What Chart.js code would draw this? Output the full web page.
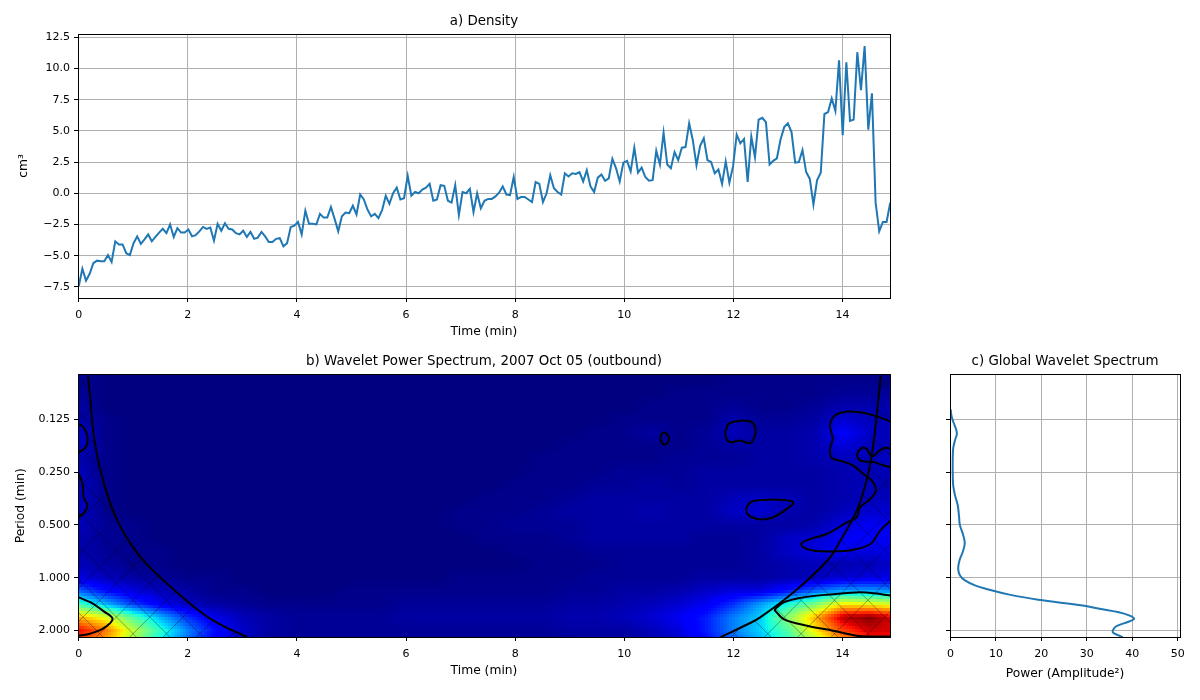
<!DOCTYPE html>
<html>
<head>
<meta charset="utf-8">
<title>Wavelet Power Spectrum</title>
<script src="https://cdn.jsdelivr.net/npm/chart.js@4/dist/chart.umd.min.js"></script>
<style>
    html, body { margin:0; padding:0; background:#fff; }
    body { width:1200px; height:700px; position:relative; overflow:hidden; }
    canvas { position:absolute; }
    #chart-density { left:0; top:0; }
    #chart-wavelet { left:0; top:345px; }
    #chart-global { left:900px; top:345px; }
</style>
</head>
<body>
<canvas id="chart-density" width="900" height="345"></canvas>
<canvas id="chart-wavelet" width="900" height="355"></canvas>
<canvas id="chart-global" width="300" height="355"></canvas>
<script>
// ── DATA ──

// a) density, one sample every dtMin minutes
const dtMin = 0.067;
const densityValues = [
    -7.45,-6.05,-7.0,-6.45,-5.6,-5.4,-5.45,-5.45,-4.95,-5.5,-3.85,-4.1,-4.1,-4.8,-4.95,-4.0,-3.45,-4.05,-3.7,-3.3,
    -3.85,-3.5,-3.15,-2.85,-3.2,-2.5,-3.5,-2.8,-3.15,-3.15,-2.9,-3.45,-3.35,-3.05,-2.7,-2.85,-2.75,-3.8,-2.45,-3.0,
    -2.4,-2.85,-2.9,-3.2,-3.3,-3.0,-3.5,-3.1,-3.65,-3.55,-3.1,-3.45,-3.9,-3.9,-3.65,-3.6,-4.25,-4.0,-2.7,-2.6,
    -2.3,-3.3,-1.4,-2.45,-2.45,-2.5,-1.65,-1.95,-1.95,-1.1,-2.05,-3.05,-1.85,-1.55,-1.6,-1.0,-1.7,-0.1,-0.5,-1.3,
    -1.85,-1.65,-2.0,-1.35,-0.2,-0.85,0,0.45,-0.5,-0.4,1.4,-0.2,0.1,0,0.3,0.45,0.75,-0.6,-0.5,0.65,
    0.6,-0.6,-0.75,0.65,-1.75,0.1,0,0.35,-1.5,0,-1.2,-0.6,-0.45,
    -0.45,-0.25,0.05,0.55,-0.1,-0.15,1.3,-0.45,-0.3,-0.3,-0.5,-0.7,0.9,0.75,-0.7,0,1.45,0.4,0.1,-0.1,
    1.6,1.35,1.6,1.55,1.7,0.95,1.85,0.55,0.1,1.25,1.5,1.0,1.2,2.75,2.0,0.95,2.45,2.6,1.75,3.65,
    1.65,2.05,1.3,1.0,1.05,3.4,2.3,4.85,2.3,2.0,3.3,2.65,3.65,3.7,5.6,4.25,2.25,3.8,4.4,2.65,
    2.5,1.6,1.9,0.75,2.55,0.85,2.15,4.7,4.0,4.35,0.9,4.55,2.9,5.9,6.05,5.7,2.3,2.6,2.8,4.3,
    5.3,5.6,4.9,2.45,2.5,3.45,1.7,1.15,-0.9,1.05,1.65,6.35,6.5,7.6,6.6,10.65,4.65,10.5,5.8,5.9,
    11.3,8.25,11.8,5.1,8.0,-0.75,-3.05,-2.3,-2.3,-0.75
];

// b) wavelet power, rows are periods (min), columns are times (min), 0-100 of the colour range
const gridTimes = [0,0.5,1,1.5,2,2.5,3,3.5,4,4.5,5,5.5,6,6.5,7,7.5,8,8.5,9,9.5,10,10.5,11,11.5,12,12.5,13,13.5,14,14.5,15];
const gridPeriods = [0.0625,0.0743,0.0884,0.1051,0.125,0.1487,0.1768,0.2102,0.25,0.2973,0.3536,0.4204,0.5,0.5946,0.7071,0.8409,1,1.1892,1.4142,1.6818,2,2.3784];
const powerGrid = [
    [2,0,0,0,0,0,0,0,0,0,0,0,0,0,0,0,0,0,0,0,0,0,0,0,0,0,1,1,1,1,1],
    [2,0,0,0,0,0,0,0,0,0,0,0,0,0,0,0,0,0,0,0,0,0,0,0,1,1,1,1,1,1,1],
    [2,0,0,0,0,0,0,0,0,0,0,0,0,0,0,0,0,0,0,0,0,0,1,1,1,1,1,1,2,2,2],
    [3,0,0,0,0,0,0,0,0,0,0,0,0,0,0,0,0,0,0,0,0,1,1,1,2,1,1,2,4,4,3],
    [4,1,0,0,0,0,0,0,0,0,0,0,0,0,0,0,0,0,0,0,1,1,1,1,4,2,2,3,7,5,5],
    [6,1,0,0,0,0,0,0,0,0,0,0,0,0,0,0,0,0,0,1,1,3,1,2,5,3,3,4,11,6,4],
    [6,1,0,0,0,0,0,0,0,0,0,0,0,0,0,0,0,0,1,1,1,1,1,2,3,3,3,4,8,5,5],
    [4,1,0,0,0,0,0,0,0,0,0,0,0,0,0,0,0,1,1,1,1,1,2,2,2,3,3,4,5,5,6],
    [5,1,0,0,0,0,0,0,0,0,0,0,0,0,0,0,0,1,1,1,2,2,2,3,3,3,3,3,4,5,4],
    [6,1,0,0,0,0,0,0,0,0,0,0,0,0,0,0,1,1,1,2,2,3,2,3,3,3,3,3,4,5,4],
    [6,1,0,0,0,0,0,0,0,0,0,0,0,0,0,1,1,1,2,3,3,3,3,3,5,6,5,3,4,5,5],
    [6,1,0,0,0,0,0,0,0,0,0,0,0,0,1,1,1,2,3,3,3,4,3,3,6,7,4,3,5,7,7],
    [5,2,1,0,0,0,0,0,0,0,0,0,0,0,1,1,2,2,2,3,3,3,3,3,3,3,3,4,8,10,10],
    [4,2,1,0,0,0,0,0,0,0,0,0,0,0,0,1,1,1,2,3,3,3,3,2,2,3,6,7,10,11,9],
    [4,2,1,1,0,0,0,0,0,0,0,0,0,0,0,0,1,1,1,2,2,2,2,2,2,3,6,8,10,8,10],
    [5,3,1,1,0,0,0,0,0,0,0,0,0,0,0,0,0,1,1,1,2,2,2,2,2,3,4,5,4,5,6],
    [8,5,3,2,1,1,0,0,0,0,0,0,0,0,1,1,1,1,1,2,2,2,2,3,3,3,4,5,7,8,9],
    [22,13,8,5,3,1,1,0,0,0,1,1,1,1,1,1,1,1,2,2,3,3,4,6,8,8,14,22,28,28,26],
    [42,30,18,10,5,3,2,1,1,1,1,1,2,2,2,2,2,2,3,3,4,5,7,10,17,28,38,50,66,64,60],
    [72,62,45,30,17,9,5,3,2,2,2,2,3,3,3,3,3,3,4,4,5,7,10,15,25,33,52,72,95,100,90],
    [90,78,58,40,25,13,6,3,2,2,2,2,2,2,2,2,2,2,3,3,3,5,8,15,25,33,45,66,84,93,92],
    [85,72,54,36,22,11,5,2,2,2,2,2,2,2,2,2,2,2,2,3,3,4,6,12,20,30,40,54,72,84,85]
];

// cone of influence, [time, period]
const coiLeft = [[0.17,0.0702],[0.22,0.1013],[0.28,0.158],[0.40,0.245],[0.58,0.378],[0.72,0.478],[0.916,0.615],[1.22,0.82],[1.85,1.25],[2.44,1.737],[3.09,2.19]];
const coiRight = [[14.7,0.0702],[14.63,0.116],[14.53,0.205],[14.44,0.279],[14.26,0.414],[13.96,0.615],[13.72,0.8],[13.09,1.22],[12.49,1.686],[12.25,1.85],[11.76,2.19]];

// significance contours, [time, period]
const contourCornerLow = [[-0.1,1.25],[0,1.296],[0.22,1.384],[0.46,1.557],[0.62,1.722],[0.46,1.94],[0.22,2.08],[0,2.144],[-0.1,2.16]];
const contourEdgeA = [[-0.1,0.128],[0,0.1325],[0.09,0.1386],[0.16,0.158],[0.13,0.18],[0,0.192],[-0.1,0.196]];
const contourEdgeB = [[-0.1,0.24],[0,0.256],[0.07,0.292],[0.09,0.347],[0.16,0.388],[0.1,0.424],[0,0.452],[-0.1,0.48]];
const contourDot = [[10.66,0.16],[10.69,0.151],[10.73,0.1485],[10.79,0.1525],[10.82,0.161],[10.79,0.17],[10.73,0.1735],[10.68,0.1685],[10.66,0.16]];
const contourBlobHigh = [[11.85,0.148],[11.91,0.1325],[12.12,0.127],[12.34,0.1297],[12.41,0.145],[12.37,0.161],[12.31,0.171],[12.12,0.165],[11.94,0.1685],[11.87,0.161],[11.85,0.148]];
const contourBlobMid = [[12.23,0.405],[12.31,0.371],[12.55,0.36],[12.92,0.36],[13.1,0.371],[12.98,0.405],[12.73,0.452],[12.52,0.466],[12.34,0.452],[12.25,0.429],[12.23,0.405]];
const contourRidge = [[12.75,1.523],[12.92,1.384],[13.22,1.306],[13.71,1.25],[14.26,1.213],[14.57,1.225],[15,1.28]];
const contourRidgeLow = [[12.75,1.523],[12.92,1.722],[13.35,1.88],[13.83,2.008],[14.26,2.144],[14.57,2.165],[15,2.17]];
const contourBigRight = [[15,0.45],[14.88,0.473],[14.69,0.539],[14.51,0.642],[14.2,0.692],[13.83,0.708],[13.47,0.701],[13.28,0.671],[13.25,0.637],[13.41,0.601],[13.71,0.563],[14.08,0.483],[14.26,0.452],[14.32,0.397],[14.51,0.355],[14.61,0.318],[14.54,0.279],[14.38,0.256],[14.2,0.229],[13.96,0.215],[13.8,0.207],[13.77,0.184],[13.82,0.161],[13.77,0.1355],[13.86,0.1187],[14.08,0.1127],[14.32,0.1137],[14.63,0.12],[14.88,0.1285],[15,0.133]];
const contourLoopRight = [[15,0.186],[14.88,0.184],[14.78,0.181],[14.68,0.188],[14.54,0.203],[14.44,0.184],[14.35,0.182],[14.27,0.197],[14.31,0.213],[14.41,0.217],[14.57,0.219],[14.72,0.227],[14.88,0.234],[15,0.238]];

// c) global spectrum, power against period
const globalPower = [0.05,0.2,0.45,0.9,1.3,1.4,1.0,0.6,0.5,0.5,0.6,1.0,1.6,1.9,2.05,2.7,3.15,2.7,2.0,1.7,2.1,3.2,5.4,9,12.7,19.3,29.1,32.8,36.8,39.3,40.4,39,36.4,35.7,37,37.9];
const globalPeriods = [0.1096,0.118,0.125,0.1347,0.1439,0.1522,0.164,0.183,0.2135,0.25,0.297,0.338,0.386,0.45,0.498,0.56,0.634,0.713,0.796,0.888,0.97,1.036,1.106,1.18,1.245,1.336,1.44,1.504,1.571,1.642,1.715,1.79,1.9,2.045,2.136,2.19];

// axis ticks
const densityTicks = [-7.5,-5,-2.5,0,2.5,5,7.5,10,12.5];
const periodTicks = [0.125,0.25,0.5,1,2];

// ── HELPERS ──

const LINE_BLUE = '#1f77b4';
const GRID_GREY = '#b0b0b0';
const PERIOD_MIN = 0.0692, PERIOD_MAX = 2.18, TIME_MIN = -0.013, TIME_MAX = 14.87;
const FONT_TITLE = 13.4, FONT_LABEL = 12.3, FONT_TICK = 11;

Chart.defaults.font.family = '"DejaVu Sans"';
Chart.defaults.color = '#000';

function ramp(v, pts) {
    for (let i = 1; i < pts.length; i++) {
        if (v <= pts[i][0]) {
            const a = pts[i-1], b = pts[i];
            return a[1] + (b[1]-a[1]) * (v-a[0]) / (b[0]-a[0]);
        }
    }
    return pts[pts.length-1][1];
}

function jet(v) {
    const r = ramp(v, [[0,0],[.35,0],[.66,1],[.89,1],[1,.5]]);
    const g = ramp(v, [[0,0],[.125,0],[.375,1],[.64,1],[.91,0],[1,0]]);
    const b = ramp(v, [[0,.5],[.11,1],[.34,1],[.65,0],[1,0]]);
    return `rgb(${Math.round(r*255)},${Math.round(g*255)},${Math.round(b*255)})`;
}

function bracket(list, v, logged) {
    let i = 0;
    while (i < list.length-2 && list[i+1] < v) i++;
    const f = logged
        ? (Math.log(v)-Math.log(list[i])) / (Math.log(list[i+1])-Math.log(list[i]))
        : (v-list[i]) / (list[i+1]-list[i]);
    return [i, Math.max(0, Math.min(1, f))];
}

function powerAt(t, p) {
    const [c, fc] = bracket(gridTimes, t, false);
    const [r, fr] = bracket(gridPeriods, p, true);
    const top = powerGrid[r][c]*(1-fc) + powerGrid[r][c+1]*fc;
    const low = powerGrid[r+1][c]*(1-fc) + powerGrid[r+1][c+1]*fc;
    return (top*(1-fr) + low*fr) / 100;
}

const pairs = list => list.map(d => ({ x:d[0], y:d[1] }));

function blackLine(list, tension = 0.35) {
    return { data:pairs(list), showLine:true, borderColor:'#000', borderWidth:2, pointRadius:0, tension, fill:false };
}

// all four spines, the axis borders are switched off
const framePlugin = {
    id:'frame',
    afterDraw(chart) {
        const { ctx, chartArea:a } = chart;
        ctx.save();
        ctx.strokeStyle = '#000';
        ctx.lineWidth = 1;
        ctx.strokeRect(Math.round(a.left)+.5, Math.round(a.top)+.5, Math.round(a.right-a.left), Math.round(a.bottom-a.top));
        ctx.restore();
    }
};

const heatmapPlugin = {
    id:'heatmap',
    beforeDatasetsDraw(chart) {
        const { ctx, chartArea:a, scales } = chart;
        const step = 3;
        ctx.save();
        ctx.beginPath();
        ctx.rect(a.left, a.top, a.right-a.left, a.bottom-a.top);
        ctx.clip();
        for (let px = Math.floor(a.left); px < a.right; px += step) {
            const t = scales.x.getValueForPixel(px+step/2);
            for (let py = Math.floor(a.top); py < a.bottom; py += step) {
                ctx.fillStyle = jet(powerAt(t, scales.y.getValueForPixel(py+step/2)));
                ctx.fillRect(px, py, step, step);
            }
        }
        // hatching outside the cone of influence
        ctx.beginPath();
        ctx.moveTo(a.left, a.top);
        coiLeft.forEach(d => ctx.lineTo(scales.x.getPixelForValue(d[0]), scales.y.getPixelForValue(d[1])));
        ctx.lineTo(a.left, a.bottom);
        ctx.closePath();
        ctx.moveTo(a.right, a.top);
        coiRight.forEach(d => ctx.lineTo(scales.x.getPixelForValue(d[0]), scales.y.getPixelForValue(d[1])));
        ctx.lineTo(a.right, a.bottom);
        ctx.closePath();
        ctx.clip();
        ctx.strokeStyle = 'rgba(0,0,0,.35)';
        ctx.lineWidth = 1;
        ctx.beginPath();
        const h = a.bottom-a.top, gap = 33.4, crossX = 83, crossY = 272;
        for (let k = -40; k < 60; k++) {
            const down = crossX - (crossY-a.top) + k*gap;
            ctx.moveTo(down, a.top); ctx.lineTo(down+h, a.bottom);
            const up = crossX + (crossY-a.top) + k*gap;
            ctx.moveTo(up, a.top); ctx.lineTo(up-h, a.bottom);
        }
        ctx.stroke();
        ctx.restore();
    }
};

function fixWidth(w) { return s => { s.width = w; }; }
function fixHeight(h) { return s => { s.height = h; }; }

function timeAxis(height, titlePad) {
    return {
        type:'linear', min:TIME_MIN, max:TIME_MAX,
        afterFit:fixHeight(height),
        afterBuildTicks:s => { s.ticks = s.ticks.filter(t => t.value >= 0 && t.value % 2 === 0); },
        title:{ display:true, text:'Time (min)', font:{size:FONT_LABEL}, padding:{bottom:titlePad, top:0} },
        ticks:{ stepSize:2, includeBounds:false, font:{size:FONT_TICK}, padding:6.5, maxRotation:0, callback:v => String(v) },
        grid:{ color:GRID_GREY, lineWidth:1, tickColor:'#000', tickLength:4 },
        border:{ display:false }
    };
}

function periodAxis(width, title, titlePad, showLabels, gridOn) {
    return {
        type:'logarithmic', reverse:true, min:PERIOD_MIN, max:PERIOD_MAX, bounds:'data',
        afterFit:fixWidth(width),
        afterBuildTicks:s => { s.ticks = periodTicks.map(v => ({ value:v })); },
        title:{ display:!!title, text:title, font:{size:FONT_LABEL}, padding:{top:titlePad, bottom:0} },
        ticks:{ autoSkip:false, font:{size:FONT_TICK}, padding:4, callback:v => showLabels ? v.toFixed(3) : '' },
        grid:{ display:true, drawOnChartArea:gridOn, color:GRID_GREY, tickColor:'#000', tickLength:4 },
        border:{ display:false }
    };
}

function titleOpts(text, padBottom) {
    return { display:true, text, fullSize:false, font:{size:FONT_TITLE, weight:'normal', lineHeight:1.2}, padding:{top:0, bottom:padBottom}, color:'#000' };
}

const baseOpts = { responsive:false, animation:false, events:[] };

// ── CHARTS ──

new Chart(document.getElementById('chart-density'), {
    type:'scatter',
    data:{ datasets:[{
        data:densityValues.map((v, i) => ({ x:i*dtMin, y:v })),
        showLine:true, borderColor:LINE_BLUE, borderWidth:2, pointRadius:0, tension:0
    }]},
    options:{ ...baseOpts,
        layout:{ padding:{ left:0, right:10, top:13, bottom:0 } },
        plugins:{ legend:{display:false}, tooltip:{enabled:false}, title:titleOpts('a) Density', 4.9) },
        scales:{
            x:timeAxis(47, 5.6),
            y:{
                type:'linear', min:-8.39, max:12.76,
                afterFit:fixWidth(78),
                afterBuildTicks:s => { s.ticks = densityTicks.map(v => ({ value:v })); },
                title:{ display:true, text:'cm³', font:{size:FONT_LABEL}, padding:{top:16.6, bottom:0} },
                ticks:{ font:{size:FONT_TICK}, padding:4, callback:v => v.toFixed(1).replace('-', '\u2212') },
                grid:{ color:GRID_GREY, tickColor:'#000', tickLength:4 },
                border:{ display:false }
            }
        }
    },
    plugins:[framePlugin]
});

new Chart(document.getElementById('chart-wavelet'), {
    type:'scatter',
    data:{ datasets:[
        blackLine(coiLeft, 0.4), blackLine(coiRight, 0.4),
        blackLine(contourCornerLow), blackLine(contourEdgeA), blackLine(contourEdgeB),
        blackLine(contourDot), blackLine(contourBlobHigh), blackLine(contourBlobMid),
        blackLine(contourRidge), blackLine(contourRidgeLow), blackLine(contourBigRight), blackLine(contourLoopRight)
    ]},
    options:{ ...baseOpts,
        layout:{ padding:{ left:0, right:10, top:8, bottom:0 } },
        plugins:{ legend:{display:false}, tooltip:{enabled:false}, title:titleOpts('b) Wavelet Power Spectrum, 2007 Oct 05 (outbound)', 5.4) },
        scales:{
            x:{ ...timeAxis(63, 21.6), grid:{ drawOnChartArea:false, tickColor:'#000', tickLength:4 } },
            y:periodAxis(78, 'Period (min)', 13.6, true, false)
        }
    },
    plugins:[heatmapPlugin, framePlugin]
});

new Chart(document.getElementById('chart-global'), {
    type:'scatter',
    data:{ datasets:[{
        data:globalPower.map((v, i) => ({ x:v, y:globalPeriods[i] })),
        showLine:true, borderColor:LINE_BLUE, borderWidth:2, pointRadius:0, tension:0.35
    }]},
    options:{ ...baseOpts,
        layout:{ padding:{ left:0, right:20, top:8, bottom:0 } },
        plugins:{ legend:{display:false}, tooltip:{enabled:false}, title:titleOpts('c) Global Wavelet Spectrum', 5.4) },
        scales:{
            x:{
                type:'linear', min:-0.1, max:50.5,
                afterFit:fixHeight(63),
                afterBuildTicks:s => { s.ticks = s.ticks.filter(t => t.value >= 0 && t.value % 10 === 0); },
                title:{ display:true, text:'Power (Amplitude²)', font:{size:FONT_LABEL}, padding:{bottom:18.6, top:0} },
                ticks:{ stepSize:10, includeBounds:false, font:{size:FONT_TICK}, padding:6.5, maxRotation:0 },
                grid:{ color:GRID_GREY, tickColor:'#000', tickLength:4 },
                border:{ display:false }
            },
            y:periodAxis(50, '', 0, false, true)
        }
    },
    plugins:[framePlugin]
});
</script>
</body>
</html>
